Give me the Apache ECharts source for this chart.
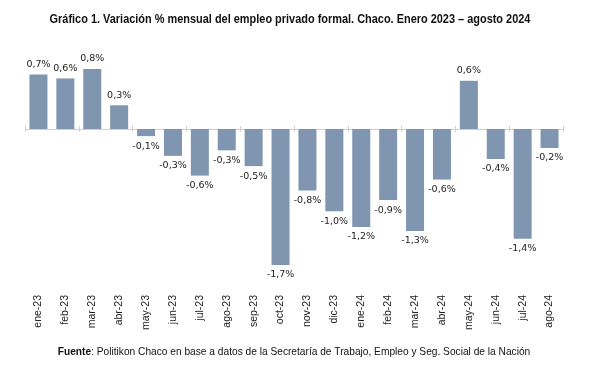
<!DOCTYPE html>
<html>
<head>
<meta charset="utf-8">
<script src="https://cdn.jsdelivr.net/npm/echarts@6/dist/echarts.min.js"></script>
<style>html,body{margin:0;padding:0;background:#fff;}#c{width:592px;height:373px;}</style>
</head>
<body>
<div id="c"></div>
<script>
const categories = ["ene-23","feb-23","mar-23","abr-23","may-23","jun-23","jul-23","ago-23","sep-23","oct-23","nov-23","dic-23","ene-24","feb-24","mar-24","abr-24","may-24","jun-24","jul-24","ago-24"];
const values = [0.69, 0.64, 0.76, 0.30, -0.09, -0.34, -0.59, -0.27, -0.47, -1.72, -0.78, -1.04, -1.24, -0.90, -1.29, -0.64, 0.61, -0.38, -1.39, -0.24];
const titleText = "Gráfico 1. Variación % mensual del empleo privado formal. Chaco. Enero 2023 – agosto 2024";
const sourceLabel = "Fuente";
const sourceText = ": Politikon Chaco en base a datos de la Secretaría de Trabajo, Empleo y Seg. Social de la Nación";

const sans = "'Liberation Sans', Arial, sans-serif";
const axisGray = '#d0d0d0';
const chart = echarts.init(document.getElementById('c'), null, {renderer: 'canvas'});
chart.setOption({
  animation: false,
  backgroundColor: '#fff',
  graphic: [
    {type: 'text', x: 290, y: 20, scaleX: 0.875, z: 10,
     style: {text: titleText, textAlign: 'center', textVerticalAlign: 'middle',
       font: "bold 12.5px " + sans, fill: '#111'}},
    {type: 'text', x: 294, y: 352, scaleX: 0.925, z: 10,
     style: {text: '{b|' + sourceLabel + '}{r|' + sourceText + '}', textAlign: 'center', textVerticalAlign: 'middle',
       rich: {
         b: {fontFamily: sans, fontSize: 11, fontWeight: 'bold', fill: '#111'},
         r: {fontFamily: sans, fontSize: 11, fontWeight: 'normal', fill: '#111'}}}}
  ],
  grid: {left: 25, right: 29, top: 50, bottom: 86, containLabel: false},
  xAxis: [
    {type: 'category', data: categories, position: 'bottom',
     axisLine: {onZero: true, lineStyle: {color: axisGray, width: 1}},
     axisTick: {show: true, length: 3, inside: false, lineStyle: {color: axisGray}},
     axisLabel: {show: false}},
    {type: 'category', data: categories, position: 'bottom',
     axisLine: {show: false, onZero: false}, axisTick: {show: false},
     axisLabel: {rotate: 90, margin: 8, fontFamily: sans, fontSize: 10.5, color: '#222'}},
    {type: 'category', data: categories, position: 'bottom',
     axisLine: {show: false, onZero: true},
     axisTick: {show: true, length: 3, inside: true, lineStyle: {color: axisGray}},
     axisLabel: {show: false}}
  ],
  yAxis: [
    {type: 'value', min: -2, max: 1, show: false, splitLine: {show: false}},
    {type: 'value', min: -2, max: 1, show: false, splitLine: {show: false}}
  ],
  series: [
    {type: 'bar', xAxisIndex: 0, yAxisIndex: 0, data: values, barWidth: 18,
     itemStyle: {color: '#8095AF'},
     label: {show: true, position: 'outside', distance: 5,
       fontFamily: "'DejaVu Sans', Verdana, sans-serif", fontSize: 9.5, color: '#222',
       formatter: p => p.value.toFixed(1).replace('.', ',') + '%'}},
    {type: 'bar', xAxisIndex: 1, yAxisIndex: 0, data: [], silent: true},
    {type: 'bar', xAxisIndex: 2, yAxisIndex: 1, data: [], silent: true}
  ]
});
</script>
</body>
</html>
